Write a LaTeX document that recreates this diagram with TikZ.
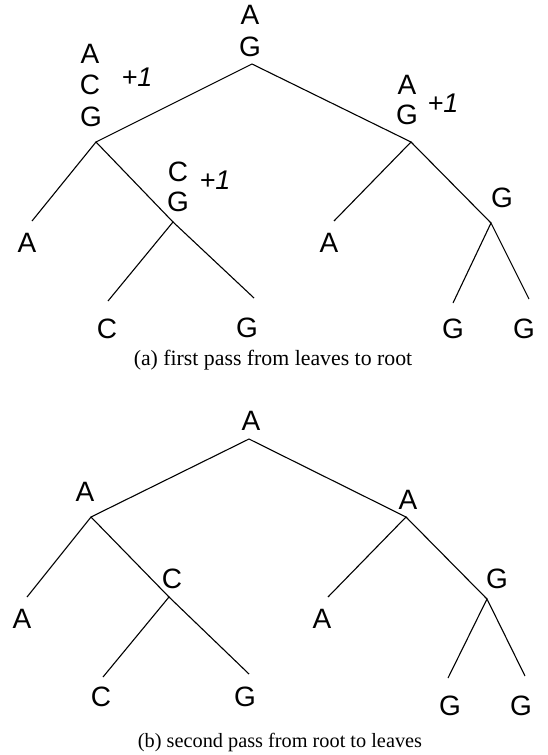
\documentclass[tikz,border=0pt]{standalone}
\usepackage{fontspec}
\setmainfont{Liberation Serif}
\newfontfamily\labfont{Liberation Sans}
\begin{document}
\begin{tikzpicture}[x=1pt,y=-1pt,
  edge/.style={line width=1.1pt},
  lab/.style={inner sep=0pt, font=\labfont\fontsize{28}{32}\selectfont},
  plus/.style={inner sep=0pt, font=\labfont\itshape\fontsize{27}{32}\selectfont},
  captxt/.style={inner sep=0pt, font=\fontsize{21}{25}\selectfont}]
\useasboundingbox (0,0) rectangle (548,755);
% ---------- top tree ----------
\coordinate (t0) at (252,64);
\coordinate (tL) at (96,142);
\coordinate (tR) at (411,142);
\coordinate (tLR) at (173,222);
\coordinate (tRR) at (491,223);
\coordinate (tLL) at (32,221);
\coordinate (tLRL) at (108,301);
\coordinate (tLRR) at (254,298);
\coordinate (tRL) at (334,221);
\coordinate (tRRL) at (453,303);
\coordinate (tRRR) at (529,299);
\draw[edge] (tL) -- (t0) -- (tR);
\draw[edge] (tLL) -- (tL) -- (tLR);
\draw[edge] (tLRL) -- (tLR) -- (tLRR);
\draw[edge] (tRL) -- (tR) -- (tRR);
\draw[edge] (tRRL) -- (tRR) -- (tRRR);
\node[lab] (t0a) at (250,15) {A};
\node[lab] (t0g) at (250,47) {G};
\node[lab] (tLa) at (90,54) {A};
\node[lab] (tLc) at (90,85) {C};
\node[lab] (tLg) at (91,117) {G};
\node[plus] (tLp) at (137,77) {+1};
\node[lab] (tRa) at (407,85) {A};
\node[lab] (tRg) at (407,115) {G};
\node[plus] (tRp) at (443,103) {+1};
\node[lab] (tLRc) at (178,172) {C};
\node[lab] (tLRg) at (178,202) {G};
\node[plus] (tLRp) at (215,180) {+1};
\node[lab] (tRRg) at (502,198) {G};
\node[lab] (tLLa) at (27,243) {A};
\node[lab] (tLRLc) at (107,329) {C};
\node[lab] (tLRRg) at (247,328) {G};
\node[lab] (tRLa) at (329,243) {A};
\node[lab] (tRRLg) at (453,329) {G};
\node[lab] (tRRRg) at (524,329) {G};
\node[captxt, font=\fontsize{21.8}{25}\selectfont] (capa) at (273,360) {(a) first pass from leaves to root};
% ---------- bottom tree ----------
\coordinate (b0) at (249,439);
\coordinate (bL) at (91,517);
\coordinate (bR) at (406,517);
\coordinate (bLR) at (169,597);
\coordinate (bRR) at (487,599);
\coordinate (bLL) at (27,597);
\coordinate (bLRL) at (103,677);
\coordinate (bLRR) at (249,674);
\coordinate (bRL) at (328,597);
\coordinate (bRRL) at (448,678);
\coordinate (bRRR) at (525,676);
\draw[edge] (bL) -- (b0) -- (bR);
\draw[edge] (bLL) -- (bL) -- (bLR);
\draw[edge] (bLRL) -- (bLR) -- (bLRR);
\draw[edge] (bRL) -- (bR) -- (bRR);
\draw[edge] (bRRL) -- (bRR) -- (bRRR);
\node[lab] (b0a) at (251,421) {A};
\node[lab] (bLa) at (85,492) {A};
\node[lab] (bRa) at (408,500) {A};
\node[lab] (bLRc) at (172,579) {C};
\node[lab] (bRRg) at (497,579) {G};
\node[lab] (bLLa) at (22,619) {A};
\node[lab] (bLRLc) at (101,697) {C};
\node[lab] (bLRRg) at (245,697) {G};
\node[lab] (bRLa) at (322,619) {A};
\node[lab] (bRRLg) at (450,706) {G};
\node[lab] (bRRRg) at (521,706) {G};
\node[captxt, font=\fontsize{20.3}{25}\selectfont] (capb) at (280,743) {(b) second pass from root to leaves};
\end{tikzpicture}
\end{document}
